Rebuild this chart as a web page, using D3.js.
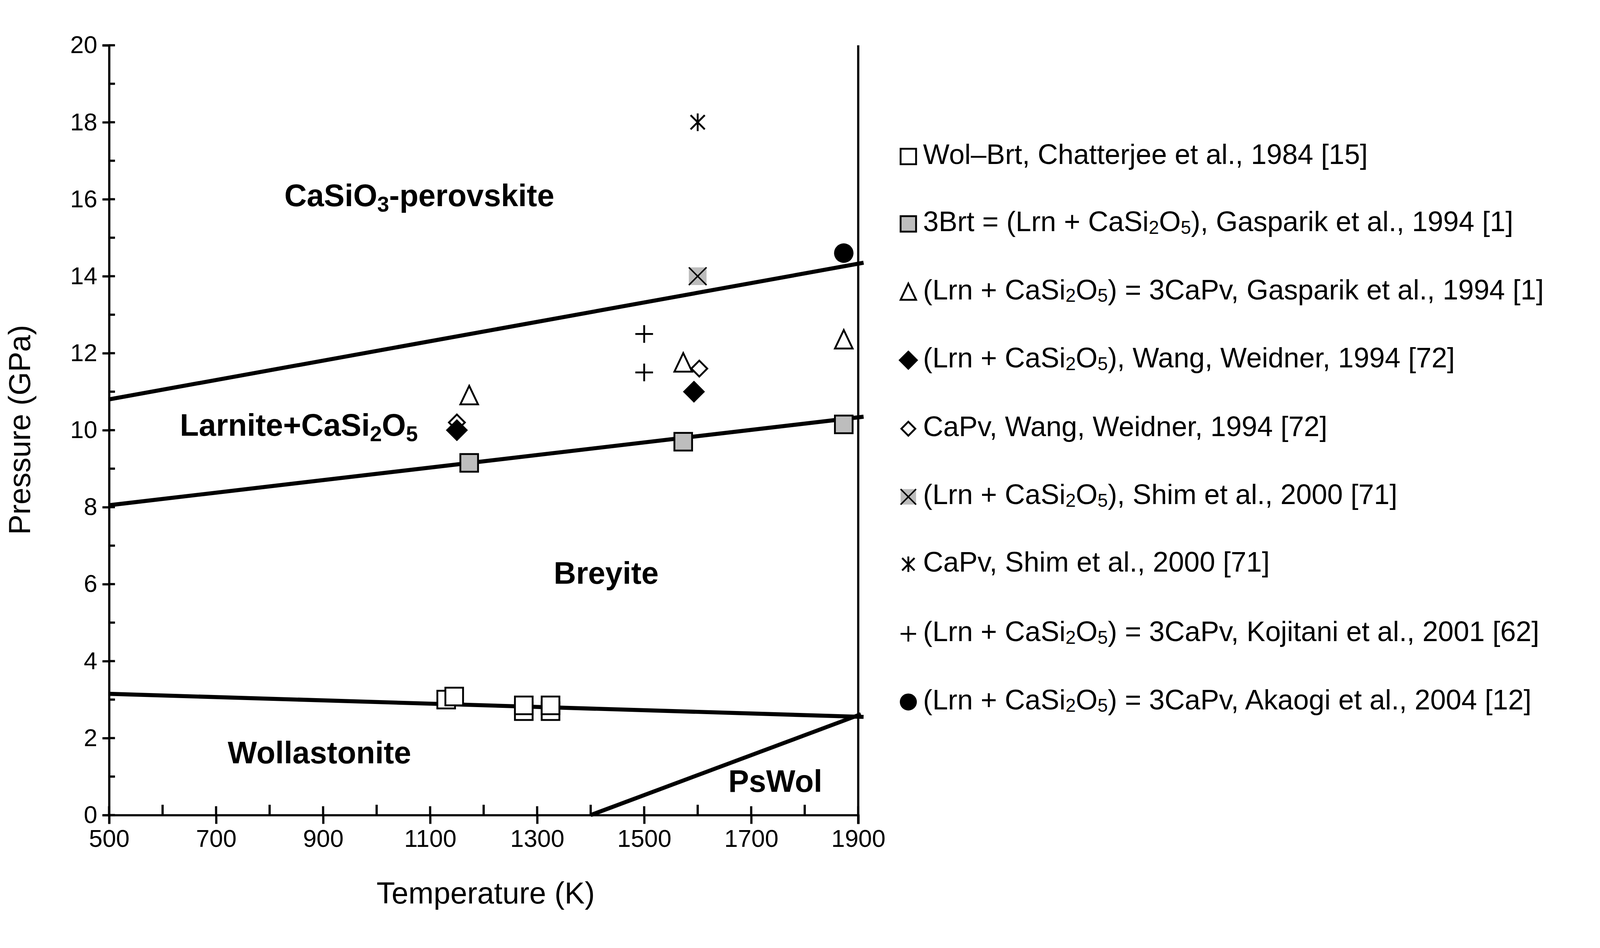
<!DOCTYPE html><html><head><meta charset="utf-8"><script src="https://cdn.jsdelivr.net/npm/d3@7"></script>
<style>html,body{margin:0;padding:0;background:#fff;overflow:hidden}svg{display:block;width:100vw;height:100vh}text{font-family:"Liberation Sans",Arial,sans-serif}</style></head><body>
<svg id="c" viewBox="0 0 4342 2428" preserveAspectRatio="xMidYMid meet"></svg>
<script>
const xTicks=[500,700,900,1100,1300,1500,1700,1900];
const yTicks=[0,2,4,6,8,10,12,14,16,18,20];
const lineUpper=[[500,10.8],[1910,14.35]];
const lineMiddle=[[500,8.05],[1910,10.35]];
const lineLower=[[500,3.15],[1910,2.55]];
const linePsWol=[[1400,0],[1905,2.62]];
const wolBrt=[[1130,3.0],[1145,3.08],[1275,2.7],[1275,2.85],[1325,2.7],[1325,2.85]];
const gaspBrt=[[1173,9.15],[1573,9.7],[1873,10.15]];
const gaspTri=[[1173,10.9],[1573,11.75],[1873,12.35]];
const wangBlack=[[1150,10.0],[1593,11.0]];
const wangOpen=[[1150,10.2],[1603,11.6]];
const shimX=[[1600,14.0]];
const shimStar=[[1600,18.0]];
const kojPlus=[[1500,12.5],[1500,11.5]];
const akaCircle=[[1873,14.6]];
const legendTypes=["sqOpen","sqGray","tri","diaB","diaO","sqX","star","plus","circ"];
const legendLabels=[
 ["Wol–Brt, Chatterjee et al., 1984 [15]"],
 ["3Brt = (Lrn + CaSi","_2","O","_5","), Gasparik et al., 1994 [1]"],
 ["(Lrn + CaSi","_2","O","_5",") = 3CaPv, Gasparik et al., 1994 [1]"],
 ["(Lrn + CaSi","_2","O","_5","), Wang, Weidner, 1994 [72]"],
 ["CaPv, Wang, Weidner, 1994 [72]"],
 ["(Lrn + CaSi","_2","O","_5","), Shim et al., 2000 [71]"],
 ["CaPv, Shim et al., 2000 [71]"],
 ["(Lrn + CaSi","_2","O","_5",") = 3CaPv, Kojitani et al., 2001 [62]"],
 ["(Lrn + CaSi","_2","O","_5",") = 3CaPv, Akaogi et al., 2004 [12]"]];
const svg=d3.select("#c");
const x=d3.scaleLinear().domain([500,1900]).range([296,2329]);
const y=d3.scaleLinear().domain([0,20]).range([2140,50]);
const g=svg.append("g");
function rich(t,parts,subSize,shift){
 let down=false;
 parts.forEach(p=>{
  const sub=p.startsWith("_");
  const ts=t.append("tspan").text(sub?p.slice(1):p);
  if(sub){ts.attr("font-size",subSize).attr("dy",down?0:shift);down=true;}
  else{ if(down){ts.attr("dy",-shift);down=false;} }
 });
}
const xa=svg.append("g").attr("transform","translate(0,2140)").call(d3.axisBottom(x).tickValues(xTicks).tickFormat(d3.format("d")).tickSize(24).tickPadding(16));
const ya=svg.append("g").attr("transform","translate(296,0)").call(d3.axisLeft(y).tickValues(yTicks).tickFormat(d3.format("d")).tickSize(18).tickPadding(14));
[xa,ya].forEach(a=>{a.attr("font-size",66).attr("font-family","Liberation Sans");a.selectAll("path,line").attr("stroke","#000").attr("stroke-width",6);a.selectAll("text").attr("font-size",66).attr("fill","#000");});
svg.append("g").selectAll("line").data(xTicks).join("line").attr("x1",d=>x(d)).attr("x2",d=>x(d)).attr("y1",2140).attr("y2",2116).attr("stroke","#000").attr("stroke-width",6);
svg.append("g").selectAll("line").data(d3.range(600,1900,200)).join("line").attr("x1",d=>x(d)).attr("x2",d=>x(d)).attr("y1",2140).attr("y2",2112).attr("stroke","#000").attr("stroke-width",6);
svg.append("g").selectAll("line").data(d3.range(1,20,2)).join("line").attr("x1",296).attr("x2",312).attr("y1",d=>y(d)).attr("y2",d=>y(d)).attr("stroke","#000").attr("stroke-width",6);
svg.append("g").selectAll("line").data(yTicks).join("line").attr("x1",296).attr("x2",312).attr("y1",d=>y(d)).attr("y2",d=>y(d)).attr("stroke","#000").attr("stroke-width",6);
svg.append("line").attr("x1",x(1900)).attr("x2",x(1900)).attr("y1",y(20)).attr("y2",y(0)+24).attr("stroke","#000").attr("stroke-width",6);
const ln=d3.line().x(d=>x(d[0])).y(d=>y(d[1]));
[lineUpper,lineMiddle,lineLower,linePsWol].forEach(l=>g.append("path").attr("d",ln(l)).attr("fill","none").attr("stroke","#000").attr("stroke-width",11));
function mark(sel,type,cx,cy,s){
 const gg=sel.append("g").attr("transform",`translate(${cx},${cy})`);
 const h=s/2;
 if(type==="sqOpen"||type==="sqGray"||type==="sqX"){
  gg.append("rect").attr("x",-h).attr("y",-h).attr("width",s).attr("height",s).attr("fill",type==="sqOpen"?"#fff":"#bdbdbd").attr("stroke",type==="sqX"?"none":"#000").attr("stroke-width",5);
  if(type==="sqX")gg.append("path").attr("d",`M${-h},${-h}L${h},${h}M${-h},${h}L${h},${-h}`).attr("stroke","#000").attr("stroke-width",4);
 }else if(type==="tri"){
  gg.append("path").attr("d",`M0,${-h*1.1}L${h},${h}L${-h},${h}Z`).attr("fill","#fff").attr("stroke","#000").attr("stroke-width",5);
 }else if(type==="diaB"||type==="diaO"){
  const k=type==="diaB"?h*1.1:h*0.9;
  gg.append("path").attr("d",`M0,${-k}L${k},0L0,${k}L${-k},0Z`).attr("fill",type==="diaB"?"#000":"#fff").attr("stroke","#000").attr("stroke-width",5);
 }else if(type==="star"){
  gg.append("path").attr("d",`M${-h*.8},${-h*.8}L${h*.8},${h*.8}M${-h*.8},${h*.8}L${h*.8},${-h*.8}M0,${-h}L0,${h}`).attr("stroke","#000").attr("stroke-width",5);
 }else if(type==="plus"){
  gg.append("path").attr("d",`M${-h},0L${h},0M0,${-h}L0,${h}`).attr("stroke","#000").attr("stroke-width",5);
 }else if(type==="circ"){
  gg.append("circle").attr("r",h*1.1).attr("fill","#000");
 }
}
const S=48;
const sets=[["sqOpen",wolBrt],["sqGray",gaspBrt],["tri",gaspTri],["diaO",wangOpen],["diaB",wangBlack],["sqX",shimX],["star",shimStar],["plus",kojPlus],["circ",akaCircle]];
sets.forEach(([t,arr])=>arr.forEach(d=>mark(g,t,x(d[0]),y(d[1]),S)));
function lab(parts,cx,cy){
 const t=svg.append("text").attr("x",cx).attr("y",cy).attr("font-size",84).attr("font-weight","bold").attr("text-anchor","middle").attr("dominant-baseline","middle");
 rich(t,parts,58,22);
}
lab(["CaSiO","_3","-perovskite"],1138,465);
lab(["Larnite+CaSi","_2","O","_5"],811,1088);
lab(["Breyite"],1645,1490);
lab(["Wollastonite"],867,1977);
lab(["PsWol"],2104,2055);
svg.append("text").attr("x",1318).attr("y",2380).attr("text-anchor","middle").attr("font-size",82).text("Temperature (K)");
svg.append("text").attr("transform","translate(82,1094) rotate(-90)").attr("text-anchor","middle").attr("font-size",82).text("Pressure (GPa)");
const ly=[352,535,720,905,1091,1276,1459,1648,1833];
legendLabels.forEach((parts,i)=>{
 const t=legendTypes[i];
 mark(svg,t,2465,ly[i],42);
 const tt=svg.append("text").attr("x",2505).attr("y",ly[i]).attr("font-size",76).attr("dominant-baseline","middle");
 rich(tt,parts,50,14);
});
</script></body></html>
